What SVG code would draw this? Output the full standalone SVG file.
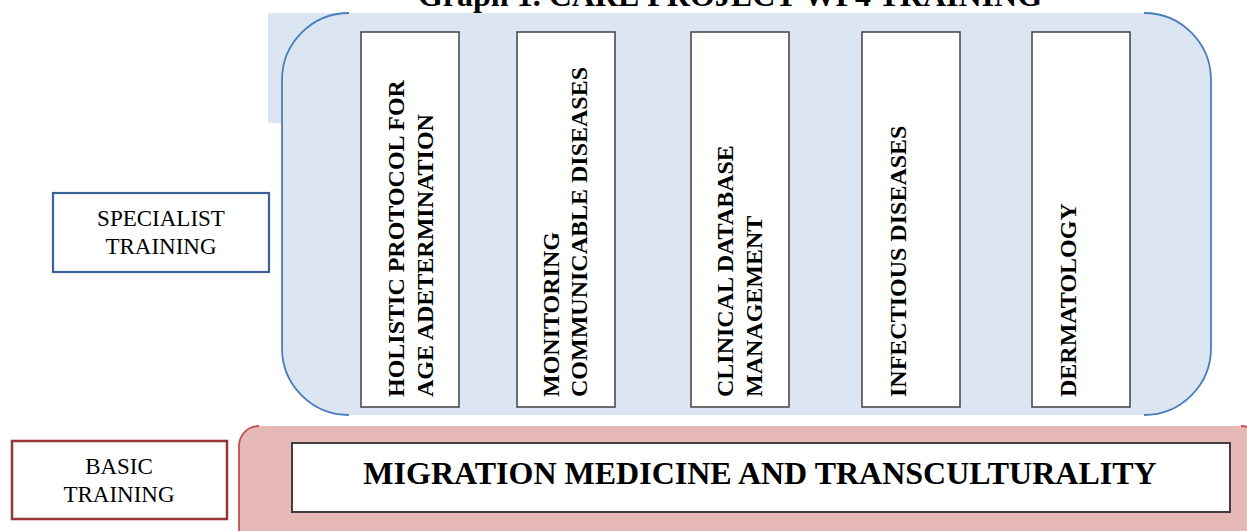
<svg xmlns="http://www.w3.org/2000/svg" width="1247" height="531" viewBox="0 0 1247 531">
<style>
.serif{font-family:"Liberation Serif","Times New Roman",serif;fill:#000}
.vt{font-family:"Liberation Serif","Times New Roman",serif;font-weight:bold;font-size:24px;fill:#000}
.col{fill:#fff;stroke:#404040;stroke-width:1.5}
</style>
<rect width="1247" height="531" fill="#fff"/>
<text class="serif" x="730" y="6" font-size="32" font-weight="bold" text-anchor="middle">Graph 1. CARE PROJECT WP4 TRAINING</text>

<g id="specialist-group">
  <rect x="268" y="13" width="82" height="110" fill="#dce6f2"/>
  <path d="M349,13 H1144 A67,67 0 0 1 1211,80 V348 A67,67 0 0 1 1144,415 H349 A67,67 0 0 1 282,348 V80 A67,67 0 0 1 349,13 Z" fill="#dce6f2"/>
  <path d="M349,13 A67,67 0 0 0 282,80 V348 A67,67 0 0 0 349,415" fill="none" stroke="#4a7ebb" stroke-width="1.8"/>
  <path d="M1144,13 A67,67 0 0 1 1211,80 V348 A67,67 0 0 1 1144,415" fill="none" stroke="#4a7ebb" stroke-width="1.8"/>
</g>

<g id="col-holistic">
  <rect class="col" x="361" y="32" width="98" height="375"/>
  <text class="vt" transform="translate(404,397) rotate(-90)">HOLISTIC PROTOCOL FOR</text>
  <text class="vt" transform="translate(433,397) rotate(-90)">AGE ADETERMINATION</text>
</g>
<g id="col-monitoring">
  <rect class="col" x="517" y="32" width="98" height="375"/>
  <text class="vt" transform="translate(559,397) rotate(-90)">MONITORING</text>
  <text class="vt" transform="translate(587,397) rotate(-90)">COMMUNICABLE DISEASES</text>
</g>
<g id="col-clinical">
  <rect class="col" x="691" y="32" width="98" height="375"/>
  <text class="vt" transform="translate(733,397) rotate(-90)">CLINICAL DATABASE</text>
  <text class="vt" transform="translate(762,397) rotate(-90)">MANAGEMENT</text>
</g>
<g id="col-infectious">
  <rect class="col" x="862" y="32" width="98" height="375"/>
  <text class="vt" transform="translate(906,397) rotate(-90)">INFECTIOUS DISEASES</text>
</g>
<g id="col-dermatology">
  <rect class="col" x="1032" y="32" width="98" height="375"/>
  <text class="vt" transform="translate(1076,397) rotate(-90)">DERMATOLOGY</text>
</g>

<g id="specialist-label">
  <rect x="53" y="193" width="216" height="79" fill="#fff" stroke="#3a6296" stroke-width="2.2"/>
  <text class="serif" font-size="23" text-anchor="middle" x="161" y="226">SPECIALIST</text>
  <text class="serif" font-size="23" text-anchor="middle" x="161" y="254">TRAINING</text>
</g>

<g id="basic-group">
  <path d="M259,426 H1262 V545 H239 V446 A20,20 0 0 1 259,426 Z" fill="#e6b9b8"/>
  <path d="M259,426 A20,20 0 0 0 239,446 V545" fill="none" stroke="#c0504d" stroke-width="1.8"/>
  <path d="M1241,426 A20,20 0 0 1 1261,446" fill="none" stroke="#c0504d" stroke-width="1.8"/>
</g>

<g id="migration">
  <rect x="292" y="443" width="938" height="69" fill="#fff" stroke="#404040" stroke-width="2"/>
  <text class="serif" font-size="32" font-weight="bold" text-anchor="middle" x="760" y="484">MIGRATION MEDICINE AND TRANSCULTURALITY</text>
</g>

<g id="basic-label">
  <rect x="12" y="441" width="215" height="78" fill="#fff" stroke="#953735" stroke-width="2.5"/>
  <text class="serif" font-size="23" text-anchor="middle" x="119" y="474">BASIC</text>
  <text class="serif" font-size="23" text-anchor="middle" x="119" y="502">TRAINING</text>
</g>

<g id="connectors"></g>
</svg>
